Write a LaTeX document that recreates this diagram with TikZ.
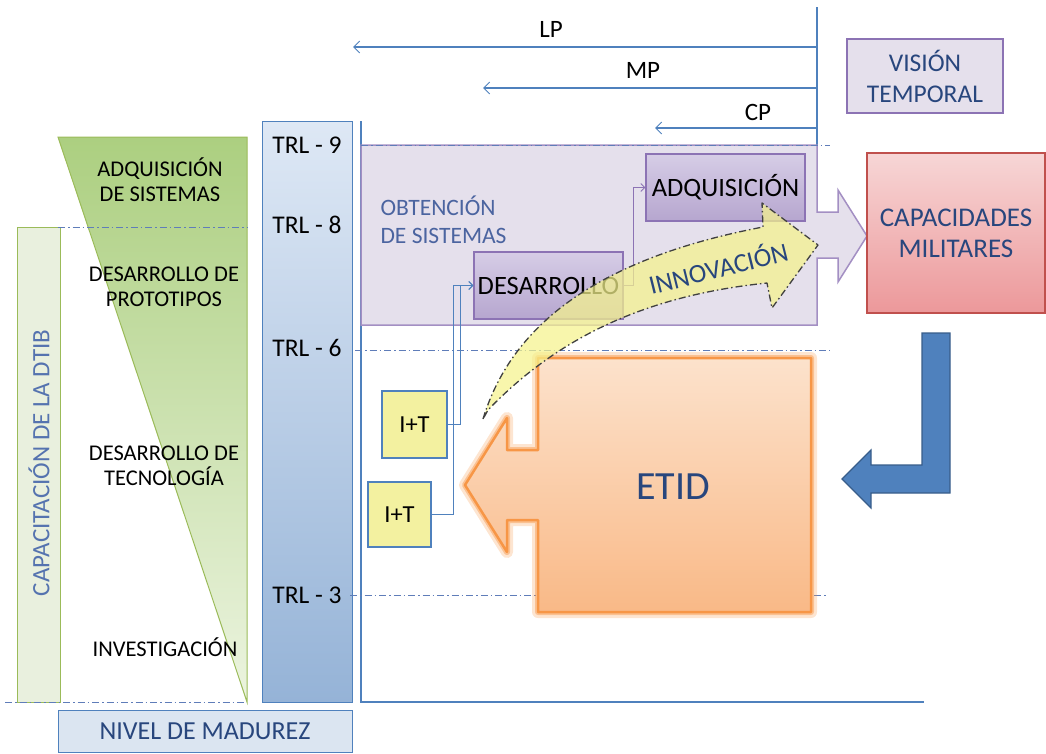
\documentclass[tikz,border=0pt]{standalone}
\usepackage{fontspec}
\setmainfont{Carlito}
\usetikzlibrary{arrows.meta}
\definecolor{lineblue}{RGB}{79,129,189}
\definecolor{dashblue}{RGB}{95,125,185}
\definecolor{txtblue}{RGB}{40,70,125}
\definecolor{obtblue}{RGB}{75,100,160}
\definecolor{capblue}{RGB}{85,115,175}
\definecolor{grn}{RGB}{155,187,89}
\definecolor{grntop}{RGB}{172,207,128}
\definecolor{grnbot}{RGB}{236,244,224}
\definecolor{grnbar}{RGB}{233,240,222}
\definecolor{trltop}{RGB}{222,232,245}
\definecolor{trlbot}{RGB}{149,179,215}
\definecolor{nivfill}{RGB}{219,229,241}
\definecolor{purp}{RGB}{140,115,180}
\definecolor{lav}{RGB}{229,224,236}
\definecolor{lavtop}{RGB}{214,205,230}
\definecolor{lavbot}{RGB}{182,166,207}
\definecolor{redb}{RGB}{192,80,77}
\definecolor{pinktop}{RGB}{247,214,214}
\definecolor{pinkbot}{RGB}{236,152,154}
\definecolor{orng}{RGB}{247,150,70}
\definecolor{ortop}{RGB}{252,226,204}
\definecolor{orbot}{RGB}{249,185,135}
\definecolor{ylw}{RGB}{243,241,160}
\definecolor{arrylw}{RGB}{245,243,140}
\definecolor{bluearr}{RGB}{79,129,189}
\definecolor{bluearrd}{RGB}{56,93,138}
\newcommand{\fsz}[2]{\fontsize{#1}{#2}\selectfont}
\begin{document}
\begin{tikzpicture}[x=1pt,y=-1pt,
  lbl/.style={font=\fsz{22.5}{25}, align=center, text=black},
  trllbl/.style={font=\fsz{25.5}{29}, text=black},
  timlbl/.style={font=\fsz{25}{29}, text=black},
  dd/.style={draw=dashblue, line width=1pt, dash pattern=on 7pt off 3pt on 1.5pt off 3pt},
  conn/.style={draw=lineblue, line width=1.1pt},
  tiplong/.style={-{Straight Barb[length=6pt,width=12pt,line width=1pt]}},
  tipsmall/.style={-{Straight Barb[length=4pt,width=8pt,line width=0.9pt]}},
  pbox/.style={draw=purp, line width=1.2pt, top color=lavtop, bottom color=lavbot, inner sep=0pt, font=\fsz{26.5}{30}, text=black},
  itbox/.style={draw=lineblue, line width=1.2pt, fill=ylw, inner sep=0pt, font=\fsz{24.5}{28}, text=black}
]
\useasboundingbox (0,0) rectangle (1046,753);

% ---- left side: capacitacion bar and green wedge
\node[draw=grn, line width=1pt, fill=grnbar, minimum width=43pt, minimum height=475pt, inner sep=0pt] (capbar) at (38.5,464.5) {};
\node[rotate=90, font=\fsz{25}{30}, text=capblue] (captxt) at (39,463) {CAPACITACIÓN DE LA DTIB};
\path[draw=grn, line width=1pt, top color=grntop, bottom color=grnbot] (58,137) -- (247,137) -- (247,702) -- cycle;

% ---- TRL bar
\node[draw=lineblue, line width=1pt, top color=trltop, bottom color=trlbot, minimum width=90pt, minimum height=581pt, inner sep=0pt] (trlbar) at (307,411.5) {};
\node[trllbl] (t9) at (307,145) {TRL - 9};
\node[trllbl] (t8) at (307,225) {TRL - 8};
\node[trllbl] (t6) at (307,348) {TRL - 6};
\node[trllbl] (t3) at (307,595) {TRL - 3};

% ---- nivel de madurez
\node[draw=lineblue, line width=1pt, fill=nivfill, minimum width=294pt, minimum height=42pt, inner sep=0pt, font=\fsz{26}{30}, text=txtblue] (niv) at (205,731) {NIVEL DE MADUREZ};

% ---- left labels
\node[lbl] (l1) at (160,180) {ADQUISICIÓN\\DE SISTEMAS};
\node[lbl] (l2) at (164,287) {DESARROLLO DE\\PROTOTIPOS};
\node[lbl] (l3) at (164,466) {DESARROLLO DE\\TECNOLOGÍA};
\node[lbl] (l4) at (165,647) {INVESTIGACIÓN};

% ---- dash-dot level lines (left)
\draw[dd] (58,227) -- (247,227);
\draw[dd] (5,702) -- (247,702);

% ---- axis
\coordinate (ax1) at (361,121);
\coordinate (ax2) at (361,702);
\coordinate (ax3) at (924,702);
\draw[conn, line width=1.4pt] (ax1) -- (ax2) -- (ax3);

% ---- time lines
\coordinate (tv0) at (817,7);
\coordinate (tv1) at (817,150);
\draw[conn] (tv0) -- (tv1);
\coordinate (lpR) at (817,47);  \coordinate (lpL) at (353,47);
\coordinate (mpR) at (817,88);  \coordinate (mpL) at (483,88);
\coordinate (cpR) at (817,128); \coordinate (cpL) at (655,128);
\draw[conn, tiplong] (lpR) -- (lpL);
\draw[conn, tiplong] (mpR) -- (mpL);
\draw[conn, tiplong] (cpR) -- (cpL);
\node[timlbl] (lp) at (551,29) {LP};
\node[timlbl] (mp) at (643,70) {MP};
\node[timlbl] (cp) at (758,112) {CP};

% ---- vision temporal
\node[draw=purp, line width=1.2pt, fill=lav, minimum width=156pt, minimum height=74pt, inner sep=0pt, align=center, text=txtblue, font=\fsz{25.5}{31}] (vis) at (925,76) {VISIÓN\\TEMPORAL};

% ---- obtencion region (block arrow)
\path[draw=purp!80, line width=1.5pt, fill=lav] (361,145) -- (817,145) -- (817,212) -- (838,212) -- (838,190) -- (867,236) -- (838,282) -- (838,258) -- (817,258) -- (817,325) -- (361,325) -- cycle;
\draw[dd] (361,145) -- (830,145);
\draw[dd] (355,350) -- (830,350);
\draw[dd] (350,595) -- (828,595);
\node[anchor=west, align=left, text=obtblue, font=\fsz{23.5}{28}] (obt) at (377,220) {OBTENCIÓN\\DE SISTEMAS};

% ---- capacidades militares
\node[draw=redb, line width=1.2pt, top color=pinktop, bottom color=pinkbot, minimum width=178pt, minimum height=160pt, inner sep=0pt, align=center, text=txtblue, font=\fsz{27}{31}] (cap) at (956,233) {CAPACIDADES\\MILITARES};

% ---- adquisicion / desarrollo
\node[pbox, minimum width=159pt, minimum height=67pt] (adq) at (725.5,187.5) {ADQUISICIÓN};
\node[pbox, minimum width=149pt, minimum height=67pt] (des) at (548.5,285.5) {DESARROLLO};
\draw[draw=purp, line width=1.1pt, tipsmall] (des.east) -- ++(10,0) |- (adq.west);

% ---- blue bent arrow
\path[draw=bluearrd, line width=1.2pt, fill=bluearr] (922,333) -- (950,333) -- (950,493) -- (871,493) -- (871,508) -- (842,479) -- (871,450) -- (871,465) -- (922,465) -- cycle;

% ---- ETID
\path[draw=orng, draw opacity=0.25, line width=12pt, line join=round] (538,358) -- (811,358) -- (811,612) -- (538,612) -- (538,520) -- (507,520) -- (507,552) -- (465,485) -- (507,418) -- (507,450) -- (538,450) -- cycle;
\path[draw=orng, draw opacity=0.45, line width=6pt, line join=round] (538,358) -- (811,358) -- (811,612) -- (538,612) -- (538,520) -- (507,520) -- (507,552) -- (465,485) -- (507,418) -- (507,450) -- (538,450) -- cycle;
\path[draw=orng, line width=2.5pt, line join=round, top color=ortop, bottom color=orbot] (538,358) -- (811,358) -- (811,612) -- (538,612) -- (538,520) -- (507,520) -- (507,552) -- (465,485) -- (507,418) -- (507,450) -- (538,450) -- cycle;
\node[font=\fsz{40}{44}, text=txtblue] (etid) at (673,487) {ETID};

% ---- I+T boxes and connectors
\node[itbox, minimum width=65pt, minimum height=67pt] (it1) at (414.5,424.5) {I+T};
\node[itbox, minimum width=63pt, minimum height=65pt] (it2) at (399.5,514.5) {I+T};
\draw[conn, tipsmall] (it2.east) -- ++(22,0) |- (des.west);
\draw[conn, tipsmall] (it1.east) -- ++(13,0) |- (des.west);

% ---- innovacion arrow
\path[draw=black!75, line width=1.3pt, dash pattern=on 7pt off 3pt on 1.5pt off 3pt, fill=arrylw, fill opacity=0.72, line join=round]
  (483,419) .. controls (510,330) and (590,260) .. (763,227)
  -- (762,203) -- (818,245) -- (772,308) -- (767,283)
  .. controls (650,295) and (560,335) .. (488,410) -- cycle;
\node[rotate=14, font=\fsz{26.5}{30}, text=txtblue] (innov) at (718,267) {INNOVACIÓN};
\end{tikzpicture}
\end{document}
